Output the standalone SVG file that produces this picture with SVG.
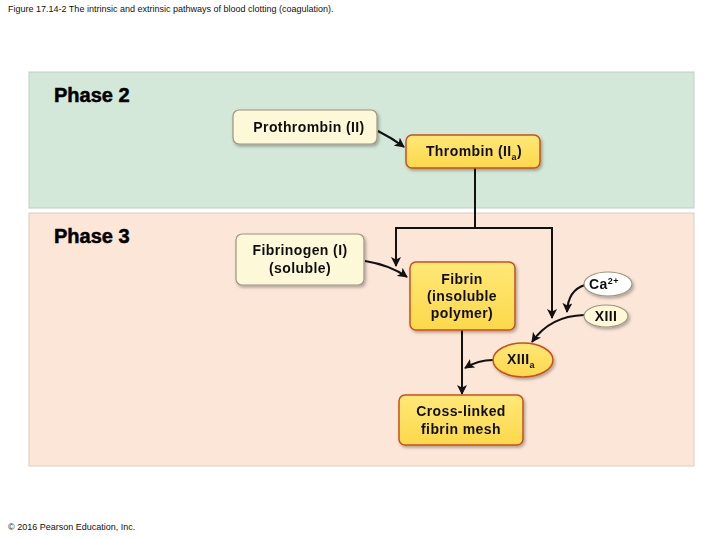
<svg xmlns="http://www.w3.org/2000/svg" width="720" height="540" viewBox="0 0 720 540">
<defs>
<style>
.t{font-family:"Liberation Sans",Arial,sans-serif;font-weight:bold;font-size:14px;fill:#111;text-anchor:middle;letter-spacing:0.4px}
.h{font-family:"Liberation Sans",Arial,sans-serif;font-weight:bold;font-size:20px;fill:#000;stroke:#000;stroke-width:0.5}
.s{font-family:"Liberation Sans",Arial,sans-serif;font-size:9px;fill:#111}
.cream{fill:#fdf8d8;stroke:#9c9680;stroke-width:1.2}
.yel{fill:url(#yg);stroke:#c8501e;stroke-width:1.5}
.ln{fill:none;stroke:#111;stroke-width:2}
</style>
<linearGradient id="yg" x1="0" y1="0" x2="0" y2="1">
<stop offset="0" stop-color="#ffe878"/><stop offset="1" stop-color="#fcd84a"/>
</linearGradient>
<filter id="sh" x="-20%" y="-20%" width="140%" height="150%">
<feDropShadow dx="1.5" dy="2" stdDeviation="1.5" flood-color="#000" flood-opacity="0.3"/>
</filter>
<marker id="ar" viewBox="0 0 10 10" refX="9" refY="5" markerWidth="5" markerHeight="5" orient="auto" markerUnits="strokeWidth">
<path d="M0,0 L10,5 L0,10 L2.5,5 z" fill="#111"/>
</marker>
</defs>
<rect width="720" height="540" fill="#fff"/>
<text class="s" x="8" y="12">Figure 17.14-2 The intrinsic and extrinsic pathways of blood clotting (coagulation).</text>
<g id="phase2">
<rect x="29" y="72" width="665" height="136" fill="#d3e8d9" stroke="#c2cfc6" stroke-width="1"/>
<text class="h" x="54" y="102">Phase 2</text>
</g>
<g id="phase3">
<rect x="29" y="213" width="665" height="253" fill="#fce6d8" stroke="#dcccc2" stroke-width="1"/>
<text class="h" x="54" y="243">Phase 3</text>
</g>
<g id="connectors">
<path class="ln" d="M378,131 Q392,138 404,147" marker-end="url(#ar)"/>
<path class="ln" d="M475,168 V228 M396,228 H552"/>
<path class="ln" d="M396,227 V266" marker-end="url(#ar)"/>
<path class="ln" d="M552,227 V318" marker-end="url(#ar)"/>
<path class="ln" d="M365,261 Q390,265 407,277" marker-end="url(#ar)"/>
<path class="ln" d="M585,285 Q568,290 567,312" marker-end="url(#ar)"/>
<path class="ln" d="M584,315 Q550,316 532,342" marker-end="url(#ar)"/>
<path class="ln" d="M462,330 V394" marker-end="url(#ar)"/>
<path class="ln" d="M493,360 Q478,360 465,368" marker-end="url(#ar)"/>
</g>
<g id="prothrombin" filter="url(#sh)">
<rect class="cream" x="233" y="110" width="144" height="34" rx="6"/>
<text class="t" x="309" y="132">Prothrombin (II)</text>
</g>
<g id="thrombin" filter="url(#sh)">
<rect class="yel" x="406" y="135" width="134" height="33" rx="6"/>
<text class="t" x="474" y="156">Thrombin (II<tspan font-size="9" dy="4">a</tspan><tspan dy="-4">)</tspan></text>
</g>
<g id="fibrinogen" filter="url(#sh)">
<rect class="cream" x="236" y="234" width="128" height="51" rx="6"/>
<text class="t" x="300" y="255">Fibrinogen (I)</text>
<text class="t" x="300" y="273">(soluble)</text>
</g>
<g id="fibrin" filter="url(#sh)">
<rect class="yel" x="410" y="262" width="105" height="68" rx="6"/>
<text class="t" x="462" y="284">Fibrin</text>
<text class="t" x="462" y="301">(insoluble</text>
<text class="t" x="462" y="318">polymer)</text>
</g>
<g id="ca" filter="url(#sh)">
<ellipse cx="608" cy="284" rx="24" ry="12" fill="#fff" stroke="#9c9680" stroke-width="1.2"/>
<text class="t" x="604" y="289">Ca<tspan font-size="9" dy="-5">2+</tspan></text>
</g>
<g id="xiii" filter="url(#sh)">
<ellipse cx="606" cy="316" rx="22" ry="11" fill="#fdf8d8" stroke="#9c9680" stroke-width="1.2"/>
<text class="t" x="606" y="321">XIII</text>
</g>
<g id="xiiia" filter="url(#sh)">
<ellipse class="yel" cx="523" cy="360" rx="30" ry="17"/>
<text class="t" x="521" y="364">XIII<tspan font-size="9" dy="4">a</tspan></text>
</g>
<g id="crosslinked" filter="url(#sh)">
<rect class="yel" x="399" y="395" width="124" height="50" rx="6"/>
<text class="t" x="461" y="416">Cross-linked</text>
<text class="t" x="461" y="434">fibrin mesh</text>
</g>
<text class="s" x="8" y="530">© 2016 Pearson Education, Inc.</text>
</svg>
